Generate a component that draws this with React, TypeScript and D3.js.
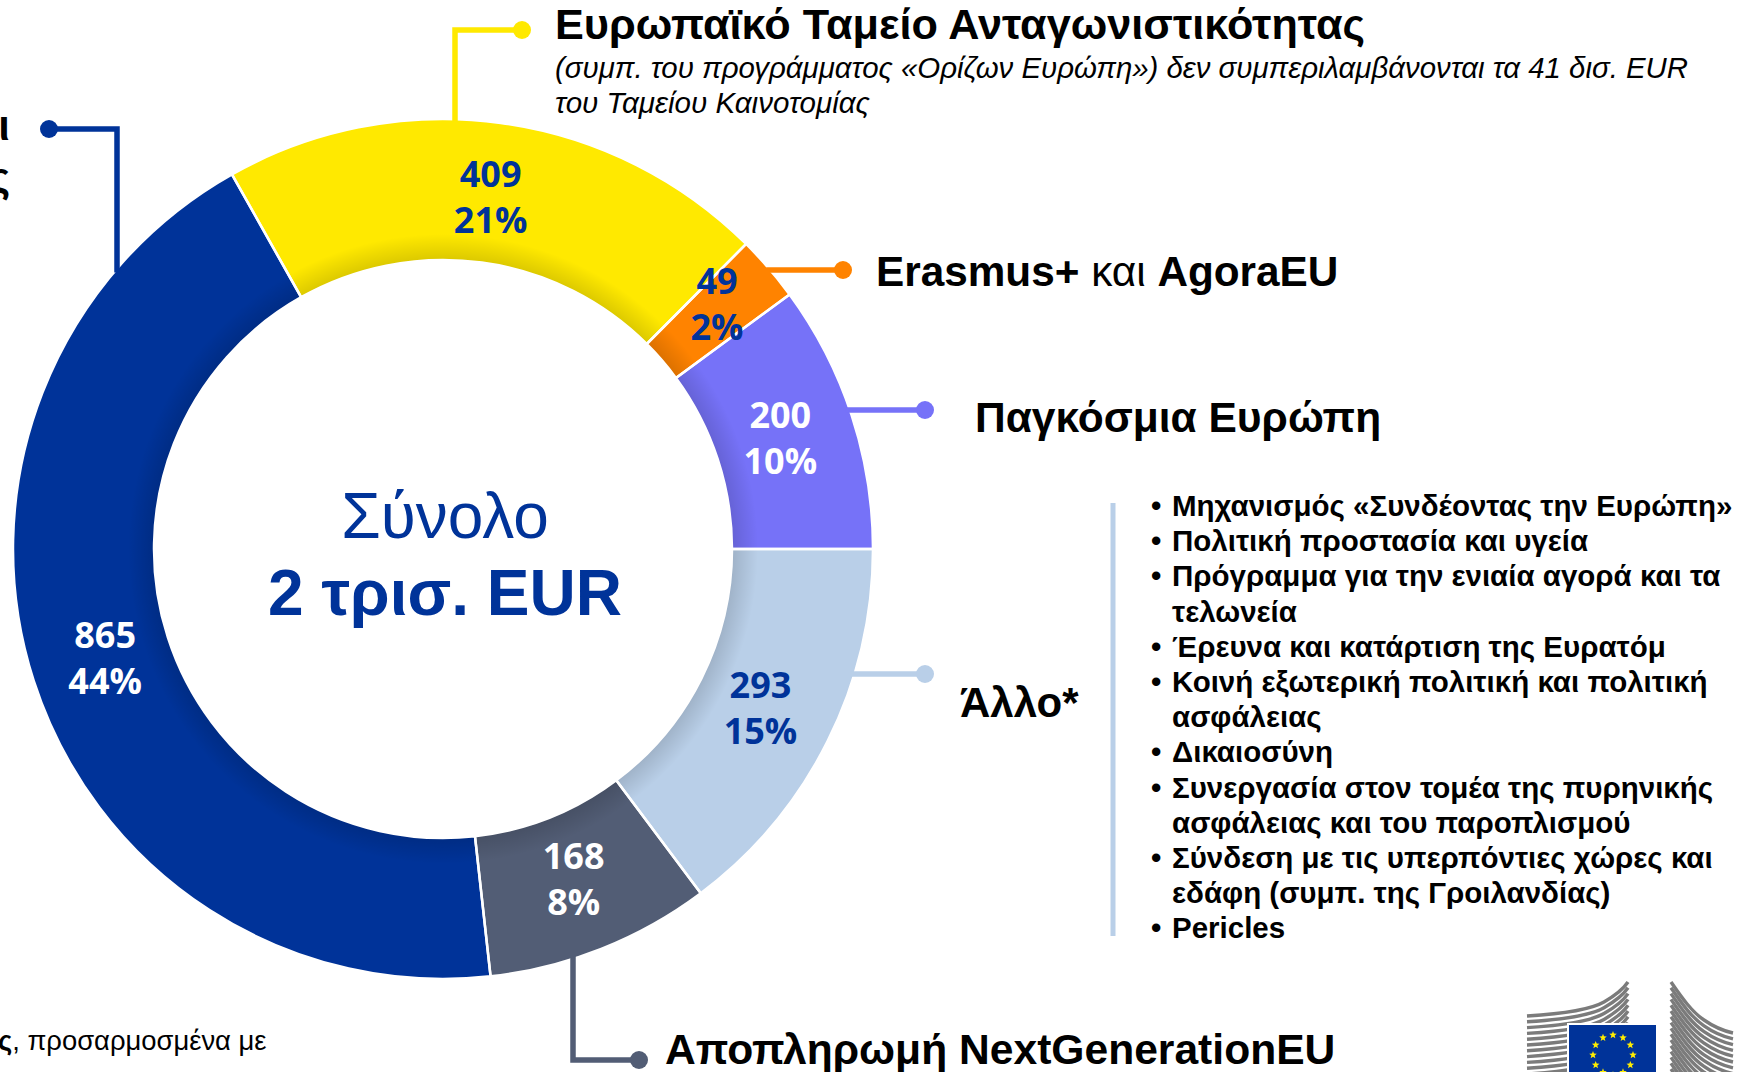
import React from "react";
import * as d3 from "d3";

// ---- data ----
const categories = [
  "Ευρωπαϊκό Ταμείο Ανταγωνιστικότητας",
  "Erasmus+ και AgoraEU",
  "Παγκόσμια Ευρώπη",
  "Άλλο*",
  "Αποπληρωμή NextGenerationEU",
  "Σχέδια εθνικής και περιφερειακής εταιρικής σχέσης",
];
const values = [409, 49, 200, 293, 168, 865];
const sliceColors = ["#FFE900", "#FF8300", "#7672F8", "#B9CFE8", "#525D75", "#003399"];
const labelColors = ["#003399", "#003399", "#FFFFFF", "#003399", "#FFFFFF", "#FFFFFF"];
const totalLines = ["Σύνολο", "2 τρισ. EUR"];
const subtitleLines = [
  "(συμπ. του προγράμματος «Ορίζων Ευρώπη») δεν συμπεριλαμβάνονται τα 41 δισ. EUR",
  "του Ταμείου Καινοτομίας",
];
const leftLabelLines = ["Σχέδια εθνικής και", "περιφερειακής εταιρικής σχέσης"];
const otherItems = [
  ["Μηχανισμός «Συνδέοντας την Ευρώπη»"],
  ["Πολιτική προστασία και υγεία"],
  ["Πρόγραμμα για την ενιαία αγορά και τα", "τελωνεία"],
  ["Έρευνα και κατάρτιση της Ευρατόμ"],
  ["Κοινή εξωτερική πολιτική και πολιτική", "ασφάλειας"],
  ["Δικαιοσύνη"],
  ["Συνεργασία στον τομέα της πυρηνικής", "ασφάλειας και του παροπλισμού"],
  ["Σύνδεση με τις υπερπόντιες χώρες και", "εδάφη (συμπ. της Γροιλανδίας)"],
  ["Pericles"],
];
const footnoteBold = "ς";
const footnoteRest = ", προσαρμοσμένα με";

// ---- layout ----
const W = 1752;
const H = 1072;
const CX = 443;
const CY = 549;
const R_OUT = 430;
const R_IN = 289;
const R_LABEL = 355;
const SANS = "'Liberation Sans', Arial, Helvetica, sans-serif";
const NUM = "'Open Sans', 'DejaVu Sans', Verdana, sans-serif";
const BLUE = "#003399";
// manual nudge of the small-slice label (index 1), like the hand-placed original
const LABEL_NUDGE: Record<number, [number, number]> = { 1: [5, -13] };

function edgeXAtY(y: number) {
  return CX + Math.sqrt(R_OUT * R_OUT - (y - CY) * (y - CY));
}
function edgeYAtX(x: number, top: boolean) {
  const d = Math.sqrt(R_OUT * R_OUT - (x - CX) * (x - CX));
  return top ? CY - d : CY + d;
}

function Dot({ x, y, c }: { x: number; y: number; c: string }) {
  return <circle cx={x} cy={y} r={9} fill={c} />;
}

function EULogo() {
  const stripesL = d3.range(11).map((i) => {
    const o = i * 5.8;
    return `M1527,${1016 + o} C1560,${1014 + o} 1590,${1010 + o} 1604,${1002 + o} C1616,${995 + o} 1624,${988 + o} 1628,${982 + o}`;
  });
  const stripesR = d3.range(16).map((i) => {
    const o = i * 5.8;
    return `M1671,${982 + o} C1682,${998 + o} 1692,${1012 + o} 1704,${1020 + o} C1714,${1027 + o} 1724,${1031 + o} 1733,${1033 + o}`;
  });
  const stars = d3.range(12).map((i) => {
    const a = (i / 12) * 2 * Math.PI;
    const sx = 1613 + 20 * Math.sin(a);
    const sy = 1055 - 20 * Math.cos(a);
    const pts = d3.range(10).map((k) => {
      const rr = k % 2 === 0 ? 4 : 1.7;
      const b = (k / 10) * 2 * Math.PI;
      return `${sx + rr * Math.sin(b)},${sy - rr * Math.cos(b)}`;
    });
    return <polygon key={i} points={pts.join(" ")} fill="#FFED00" />;
  });
  return (
    <g>
      {stripesL.map((d, i) => (
        <path key={"l" + i} d={d} fill="none" stroke="#7b7b7b" strokeWidth={3.4} />
      ))}
      {stripesR.map((d, i) => (
        <path key={"r" + i} d={d} fill="none" stroke="#7b7b7b" strokeWidth={3.4} />
      ))}
      <rect x={1567} y={1023} width={91} height={62} fill="#fff" />
      <rect x={1569} y={1025} width={87} height={60} fill={BLUE} />
      {stars}
    </g>
  );
}

export default function App() {
  const total = d3.sum(values);
  const start = Math.PI / 2 - (2 * Math.PI * d3.sum(values.slice(0, 3))) / total;
  const pie = d3
    .pie<number>()
    .sort(null)
    .value((d) => d)
    .startAngle(start)
    .endAngle(start + 2 * Math.PI);
  const arcs = pie(values);
  const arc = d3.arc<d3.PieArcDatum<number>>().innerRadius(R_IN).outerRadius(R_OUT);
  const labelArc = d3.arc<d3.PieArcDatum<number>>().innerRadius(R_LABEL).outerRadius(R_LABEL);
  const ring = d3.arc()({ innerRadius: R_IN, outerRadius: R_OUT, startAngle: 0, endAngle: 2 * Math.PI } as any) as string;

  // connectors
  const yTopY = 30;
  const yLineX = 455;
  const blueX = 117;
  const blueY = 129;
  const orangeY = 270;
  const purpleY = 410;
  const lightY = 674;
  const slateX = 573;
  const slateY = 1060;

  const lineW = 5.5;
  const bulletY0 = 516;
  const bulletDY = 35.2;
  let lineIdx = 0;
  const bulletEls: React.ReactNode[] = [];
  otherItems.forEach((item, i) => {
    item.forEach((t, j) => {
      const y = bulletY0 + lineIdx * bulletDY;
      if (j === 0)
        bulletEls.push(
          <text key={`b${i}`} x={1151} y={y} fontSize={29.5} fontWeight="bold" fontFamily={SANS} fill="#000">
            •
          </text>
        );
      bulletEls.push(
        <text key={`t${i}-${j}`} x={1172} y={y} fontSize={29.5} fontWeight="bold" fontFamily={SANS} fill="#000">
          {t}
        </text>
      );
      lineIdx++;
    });
  });

  return (
    <svg
      width={W}
      height={H}
      viewBox={`0 0 ${W} ${H}`}
      style={{ position: "absolute", left: 0, top: 0, background: "#fff" }}
    >
      <defs>
        <radialGradient id="innerShade" gradientUnits="userSpaceOnUse" cx={0} cy={0} r={R_OUT}>
          <stop offset={R_IN / R_OUT} stopColor="#000" stopOpacity={0.14} />
          <stop offset={(R_IN + 26) / R_OUT} stopColor="#000" stopOpacity={0} />
          <stop offset={1} stopColor="#000" stopOpacity={0} />
        </radialGradient>
      </defs>
      <rect width={W} height={H} fill="#fff" />

      {/* donut */}
      <g transform={`translate(${CX},${CY})`}>
        {arcs.map((a, i) => (
          <path key={i} d={arc(a) as string} fill={sliceColors[i]} />
        ))}
        <path d={ring} fill="url(#innerShade)" />
        {arcs.map((a, i) => (
          <path key={"s" + i} d={arc(a) as string} fill="none" stroke="#fff" strokeWidth={2.5} />
        ))}
        {arcs.map((a, i) => {
          const [cx0, cy0] = labelArc.centroid(a);
          const [nx, ny] = LABEL_NUDGE[i] || [0, 0];
          const lx = cx0 + nx;
          const ly = cy0 + ny;
          const pct = Math.round((a.value / total) * 100);
          return (
            <g key={"lab" + i} fontFamily={NUM} fontWeight="bold" fontSize={36} fill={labelColors[i]} textAnchor="middle">
              <text x={lx} y={ly - 23} dy="0.36em">
                {a.value}
              </text>
              <text x={lx} y={ly + 23} dy="0.36em">
                {pct}%
              </text>
            </g>
          );
        })}
      </g>

      {/* centre total */}
      <text x={CX + 2} y={538} textAnchor="middle" fontFamily={SANS} fontSize={64} fill={BLUE}>
        {totalLines[0]}
      </text>
      <text x={CX + 2} y={615} textAnchor="middle" fontFamily={SANS} fontSize={64} fontWeight="bold" fill={BLUE}>
        {totalLines[1]}
      </text>

      {/* connector: national plans (dark blue) */}
      <polyline
        points={`${49},${blueY} ${blueX},${blueY} ${blueX},${edgeYAtX(blueX, true) + 4}`}
        fill="none"
        stroke={sliceColors[5]}
        strokeWidth={lineW}
      />
      <Dot x={49} y={blueY} c={sliceColors[5]} />
      <g fontFamily={SANS} fontSize={42} fontWeight="bold" fill="#000" textAnchor="end">
        <text x={10} y={140}>
          {leftLabelLines[0]}
        </text>
        <text x={10} y={192}>
          {leftLabelLines[1]}
        </text>
      </g>

      {/* connector: competitiveness fund (yellow) */}
      <polyline
        points={`${yLineX},${edgeYAtX(yLineX, true) + 4} ${yLineX},${yTopY} ${522},${yTopY}`}
        fill="none"
        stroke={sliceColors[0]}
        strokeWidth={lineW}
      />
      <Dot x={522} y={yTopY} c={sliceColors[0]} />
      <text x={555} y={39} fontFamily={SANS} fontSize={42} fontWeight="bold" fill="#000" textLength={810} lengthAdjust="spacingAndGlyphs">
        {categories[0]}
      </text>
      <text x={555} y={78} fontFamily={SANS} fontSize={29} fontStyle="italic" fill="#000" textLength={1133} lengthAdjust="spacingAndGlyphs">
        {subtitleLines[0]}
      </text>
      <text x={555} y={113} fontFamily={SANS} fontSize={29} fontStyle="italic" fill="#000" textLength={315} lengthAdjust="spacingAndGlyphs">
        {subtitleLines[1]}
      </text>

      {/* connector: Erasmus (orange) */}
      <line x1={edgeXAtY(orangeY) - 4} y1={orangeY} x2={843} y2={orangeY} stroke={sliceColors[1]} strokeWidth={lineW} />
      <Dot x={843} y={orangeY} c={sliceColors[1]} />
      <text x={876} y={286} fontFamily={SANS} fontSize={42.3} fill="#000">
        <tspan fontWeight="bold">Erasmus+</tspan>
        <tspan> και </tspan>
        <tspan fontWeight="bold">AgoraEU</tspan>
      </text>

      {/* connector: Global Europe (purple) */}
      <line x1={edgeXAtY(purpleY) - 4} y1={purpleY} x2={925} y2={purpleY} stroke={sliceColors[2]} strokeWidth={lineW} />
      <Dot x={925} y={purpleY} c={sliceColors[2]} />
      <text x={975} y={432} fontFamily={SANS} fontSize={42.5} fontWeight="bold" fill="#000">
        {categories[2]}
      </text>

      {/* connector: Other (light blue) */}
      <line x1={edgeXAtY(lightY) - 4} y1={lightY} x2={925} y2={lightY} stroke={sliceColors[3]} strokeWidth={lineW} />
      <Dot x={925} y={lightY} c={sliceColors[3]} />
      <text x={960} y={717} fontFamily={SANS} fontSize={42} fontWeight="bold" fill="#000">
        {categories[3]}
      </text>

      {/* list of other programmes */}
      <line x1={1113} y1={503} x2={1113} y2={936} stroke={sliceColors[3]} strokeWidth={5} />
      {bulletEls}

      {/* connector: NGEU repayment (slate) */}
      <polyline
        points={`${slateX},${edgeYAtX(slateX, false) - 4} ${slateX},${slateY} ${639},${slateY}`}
        fill="none"
        stroke={sliceColors[4]}
        strokeWidth={lineW}
      />
      <Dot x={639} y={slateY} c={sliceColors[4]} />
      <text x={665} y={1064} fontFamily={SANS} fontSize={42.6} fontWeight="bold" fill="#000">
        {categories[4]}
      </text>

      {/* footnote */}
      <text x={-2} y={1050} fontFamily={SANS} fontSize={27.4} fill="#000">
        <tspan fontWeight="bold">{footnoteBold}</tspan>
        <tspan>{footnoteRest}</tspan>
      </text>

      <EULogo />
    </svg>
  );
}
